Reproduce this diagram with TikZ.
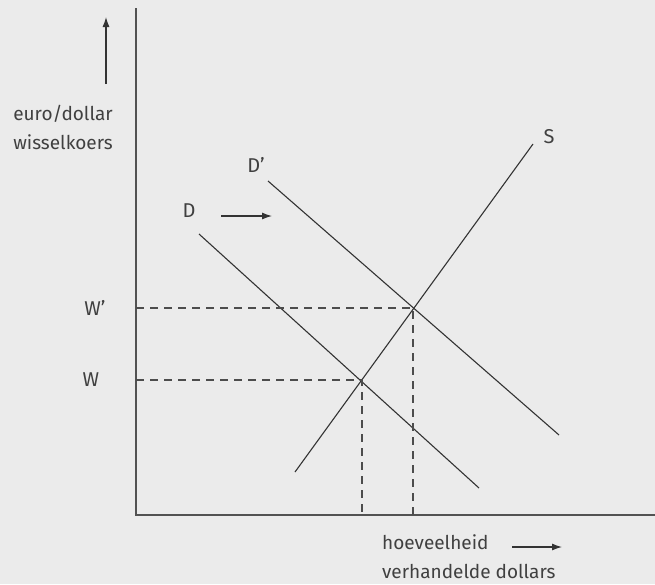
\documentclass[tikz,border=0pt]{standalone}
\usepackage{fontspec}
\setmainfont{Fira Sans}
\usepackage{tikz}
\usetikzlibrary{arrows.meta}

\begin{document}
\begin{tikzpicture}[x=1pt,y=-1pt,
 axis/.style={draw=black!68,line width=1.8pt},
 curve/.style={draw=black!80,line width=1.1pt},
 guide/.style={draw=black!70,line width=1.1pt,dash pattern=on 8pt off 6pt},
 move/.style={-{Latex[length=10pt,width=7pt]},draw=black!80,line width=1.1pt},
 lab/.style={font=\fontsize{19}{29}\selectfont,text=black!75,inner sep=0pt},
 curvelab/.style={lab,font=\fontsize{20}{22}\selectfont}]
\fill[black!8] (0,0) rectangle (655,584);
\useasboundingbox (0,0) rectangle (655,584);

% axes
\coordinate (top) at (136,8);
\coordinate (origin) at (136,515);
\coordinate (right) at (655,515);
\draw[axis] (top) -- (origin) -- (right);

% axis labels
\node[lab,align=center] (ylab) at (63,127) {euro/dollar\\wisselkoers};
\coordinate (yarrow) at (106,84);
\draw[move] (yarrow) -- ++(0,-67);
\node[lab,align=left,anchor=north west] (xlab) at (382,534) {hoeveelheid\\verhandelde dollars};
\coordinate (xarrow) at (512,547);
\draw[move] (xarrow) -- ++(50,0);

% supply and demand
\coordinate (Sa) at (295,472);
\coordinate (Sb) at (533,144);
\coordinate (Da) at (199,234);
\coordinate (Db) at (479,488);
\coordinate (Dpa) at (268,181);
\coordinate (Dpb) at (559,435);
\draw[curve] (Sa) -- (Sb);
\draw[curve] (Da) -- (Db);
\draw[curve] (Dpa) -- (Dpb);
\node[curvelab] (S) at (549,137) {S};
\node[curvelab] (D) at (189,211) {D};
\node[curvelab] (Dp) at (256,165) {D’};
\coordinate (Dshift) at (221,216);
\draw[move] (Dshift) -- ++(51,0);

% equilibria
\coordinate (E) at (362,380);
\coordinate (Ep) at (413,308);
\node[curvelab] (W) at (91,380) {W};
\node[curvelab] (Wp) at (95,308) {W’};
\draw[guide] (origin |- E) -- (E) -- (E |- origin);
\draw[guide] (origin |- Ep) -- (Ep) -- (Ep |- origin);
\end{tikzpicture}
\end{document}
